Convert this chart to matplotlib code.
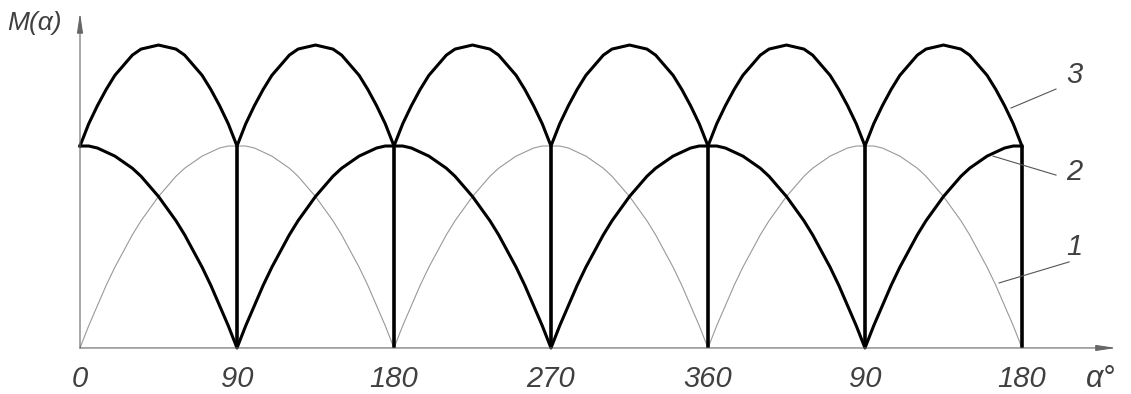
import numpy as np
import matplotlib.pyplot as plt

# one quarter (0..90 deg, step 5) of each curve
step = 5
arc1 = [0.0, 0.11, 0.21, 0.31, 0.40, 0.48, 0.56, 0.63, 0.69, 0.75,
        0.80, 0.85, 0.89, 0.92, 0.95, 0.97, 0.99, 1.0, 1.0]
arc2 = [1.0, 1.0, 0.99, 0.97, 0.95, 0.92, 0.89, 0.85, 0.80, 0.75,
        0.69, 0.63, 0.56, 0.48, 0.40, 0.31, 0.21, 0.11, 0.0]
arc3 = [1.0, 1.11, 1.20, 1.28, 1.35, 1.40, 1.45, 1.48, 1.49, 1.50,
        1.49, 1.48, 1.45, 1.40, 1.35, 1.28, 1.20, 1.11, 1.0]
quarters = 6
tick_pos = [0, 90, 180, 270, 360, 450, 540]
tick_lbl = ['0', '90', '180', '270', '360', '90', '180']

def build(q_even, q_odd, n):
    # chain quarters: q_even on even quarters, q_odd on odd ones
    xs, ys = [], []
    for k in range(n):
        q = q_even if k % 2 == 0 else q_odd
        for i, v in enumerate(q):
            if k > 0 and i == 0:
                continue
            xs.append(k * 90 + i * step)
            ys.append(v)
    return np.array(xs), np.array(ys)

x1, y1 = build(arc1, arc1[::-1], quarters)
x2, y2 = build(arc2, arc2[::-1], quarters)
x3, y3 = build(arc3, arc3, quarters)

fig = plt.figure(figsize=(11.31, 3.94), dpi=100)
ax = fig.add_axes([0, 0, 1, 1])
ax.set_xlim(-45.86, 602.5)
ax.set_ylim(-0.228, 1.723)
ax.axis('off')

font = dict(family=['Liberation Sans', 'DejaVu Sans'], style='italic', color='#404040')

# axes with arrows
arrow = dict(arrowstyle='-|>,head_length=1.2,head_width=0.18', color='#666666', lw=0.8,
             shrinkA=0, shrinkB=0)
ax.annotate('', xy=(594, 0), xytext=(0, 0), arrowprops=arrow)
ax.annotate('', xy=(0, 1.66), xytext=(0, 0), arrowprops=arrow)

ax.plot(x1, y1, color='#999999', lw=0.8)
ax.plot(x2, y2, color='black', lw=2.2, solid_joinstyle='round')
ax.plot(x3, y3, color='black', lw=2.2, solid_joinstyle='round')
ax.vlines(tick_pos[1:], 0, 1.0, color='black', lw=2.6)

for p, t in zip(tick_pos, tick_lbl):
    ax.text(p, -0.155, t, ha='center', va='center', fontsize=21, **font)

ax.text(-42, 1.61, 'M(α)', ha='left', va='center', fontsize=19, **font)
ax.text(585, -0.155, 'α°', ha='center', va='center', fontsize=22, **font)

# callouts
ax.plot([533.7, 559.5], [1.188, 1.282], color='#555555', lw=0.8)
ax.plot([523.4, 559.5], [0.95, 0.856], color='#555555', lw=0.8)
ax.plot([526.9, 567.0], [0.322, 0.426], color='#555555', lw=0.8)
ax.text(570, 1.35, '3', ha='center', va='center', fontsize=21, **font)
ax.text(570, 0.87, '2', ha='center', va='center', fontsize=21, **font)
ax.text(570, 0.50, '1', ha='center', va='center', fontsize=21, **font)

fig.savefig('out.png', dpi=100)
